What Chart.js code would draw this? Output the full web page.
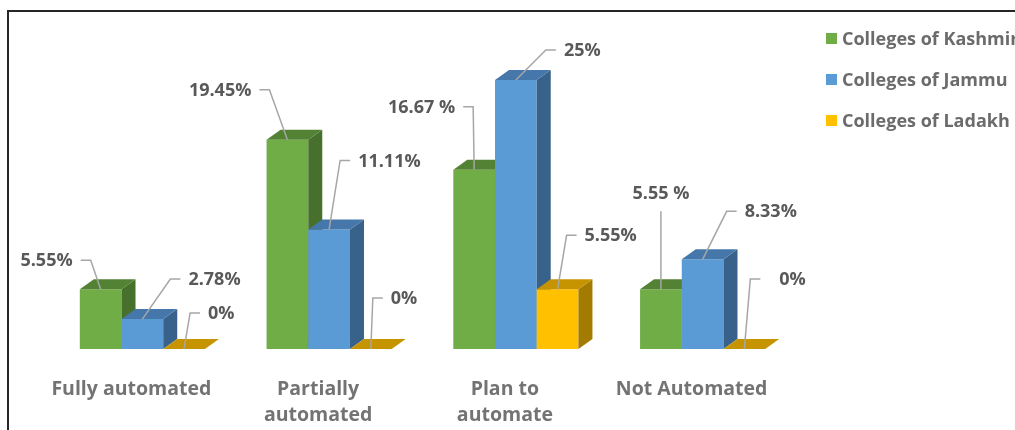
<!DOCTYPE html>
<html lang="en">
<head>
<meta charset="UTF-8">
<title>Automation status of colleges</title>
<script src="https://cdn.jsdelivr.net/npm/chart.js"></script>
<style>
  body{ margin:0; background:#fff; }
  #wrap{ width:1015px; height:430px; }
</style>
</head>
<body>
<div id="wrap"><canvas id="autoChart" width="1015" height="430"></canvas></div>
<script>
// data
const categories = [['Fully automated'], ['Partially', 'automated'], ['Plan to', 'automate'], ['Not Automated']];
const seriesNames = ['Colleges of Kashmir', 'Colleges of Jammu', 'Colleges of Ladakh'];
const kashmir = [5.55, 19.45, 16.67, 5.55];
const jammu = [2.78, 11.11, 25, 8.33];
const ladakh = [0, 0, 5.55, 0];
const kashmirLabels = ['5.55%', '19.45%', '16.67 %', '5.55 %'];
const jammuLabels = ['2.78%', '11.11%', '25%', '8.33%'];
const ladakhLabels = ['0%', '0%', '5.55%', '0%'];

// where each label's leader line bends (relative to the bar top) and which side the text sits
const kashmirLeaders = [[-10, -29, 'left'], [-18, -50, 'left'], [-1, -63, 'left'], [0, -78, 'top']];
const jammuLeaders = [[28, -40, 'right'], [11, -69, 'right'], [30, -30, 'right'], [24, -48, 'right']];
const ladakhLeaders = [[6, -36, 'right'], [2, -51, 'right'], [9, -54, 'right'], [6, -70, 'right', 19]];

// front, top, side
const greenFaces = ['#70ad47', '#548235', '#47702c'];
const blueFaces = ['#5b9bd5', '#4677ab', '#39628a'];
const yellowFaces = ['#ffc000', '#c59400', '#a37b00'];

const DX = 14, DY = 10;
const FONT = '"Open Sans", "Liberation Sans", sans-serif';

const bars3d = {
  id: 'bars3d',
  beforeDraw(chart) {
    const ctx = chart.ctx;
    ctx.save();
    ctx.strokeStyle = '#262626';
    ctx.lineWidth = 2;
    ctx.beginPath();
    ctx.moveTo(8, 430);
    ctx.lineTo(8, 11);
    ctx.lineTo(1015, 11);
    ctx.stroke();
    ctx.restore();
  },
  afterDatasetsDraw(chart) {
    const ctx = chart.ctx;
    const poly = (pts, color) => {
      ctx.fillStyle = color;
      ctx.beginPath();
      ctx.moveTo(pts[0][0], pts[0][1]);
      for (let k = 1; k < pts.length; k++) ctx.lineTo(pts[k][0], pts[k][1]);
      ctx.closePath();
      ctx.fill();
    };
    ctx.save();

    // bars, dataset by dataset so the next bar covers the side of the one before
    chart.data.datasets.forEach((ds, i) => {
      const meta = chart.getDatasetMeta(i);
      meta.data.forEach(bar => {
        const p = bar.getProps(['x', 'y', 'base', 'width'], true);
        const l = p.x - p.width / 2, r = p.x + p.width / 2;
        const f = ds.faces;
        if (p.base - p.y > 0) {
          poly([[l, p.y], [r, p.y], [r, p.base], [l, p.base]], f[0]);
          poly([[r, p.y], [r + DX, p.y - DY], [r + DX, p.base - DY], [r, p.base]], f[2]);
        }
        poly([[l, p.y], [l + DX, p.y - DY], [r + DX, p.y - DY], [r, p.y]], f[1]);
      });
    });

    // data labels with leader lines
    ctx.font = 'bold 18px ' + FONT;
    ctx.textBaseline = 'middle';
    chart.data.datasets.forEach((ds, i) => {
      const meta = chart.getDatasetMeta(i);
      meta.data.forEach((bar, j) => {
        const p = bar.getProps(['x', 'y'], true);
        const [ex, ey, side, gap] = ds.leaders[j];
        const bx = p.x + ex, by = p.y + ey;
        const g = gap || 8;
        ctx.strokeStyle = '#a6a6a6';
        ctx.lineWidth = 1.5;
        ctx.beginPath();
        ctx.moveTo(p.x, p.y);
        ctx.lineTo(bx, by);
        ctx.fillStyle = '#595959';
        if (side === 'left') {
          ctx.lineTo(bx - 10, by);
          ctx.stroke();
          ctx.textAlign = 'right';
          ctx.fillText(ds.texts[j], bx - 10 - g, by + 1);
        } else if (side === 'right') {
          ctx.lineTo(bx + 10, by);
          ctx.stroke();
          ctx.textAlign = 'left';
          ctx.fillText(ds.texts[j], bx + 10 + g, by + 1);
        } else {
          ctx.stroke();
          ctx.textAlign = 'center';
          ctx.fillText(ds.texts[j], bx, by - 17);
        }
      });
    });

    // category labels
    const xs = chart.scales.x;
    ctx.font = 'bold 19.5px ' + FONT;
    ctx.fillStyle = '#737373';
    ctx.textAlign = 'center';
    chart.data.labels.forEach((lines, i) => {
      const cx = xs.getPixelForValue(i) - 11;
      lines.forEach((t, k) => ctx.fillText(t, cx, 389 + k * 26));
    });

    // legend
    ctx.font = 'bold 18px ' + FONT;
    ctx.textAlign = 'left';
    chart.data.datasets.forEach((ds, i) => {
      const cy = 39 + i * 41;
      ctx.fillStyle = ds.faces[0];
      ctx.fillRect(826, cy - 6, 11, 11);
      ctx.fillStyle = '#6b6b6b';
      ctx.fillText(ds.label, 842, cy + 1);
    });
    ctx.restore();
  }
};

new Chart(document.getElementById('autoChart'), {
  type: 'bar',
  data: {
    labels: categories,
    datasets: [
      { label: seriesNames[0], data: kashmir, texts: kashmirLabels, leaders: kashmirLeaders, faces: greenFaces },
      { label: seriesNames[1], data: jammu, texts: jammuLabels, leaders: jammuLeaders, faces: blueFaces },
      { label: seriesNames[2], data: ladakh, texts: ladakhLabels, leaders: ladakhLeaders, faces: yellowFaces }
    ].map(d => Object.assign(d, {
      backgroundColor: 'rgba(0,0,0,0)',
      borderWidth: 0,
      categoryPercentage: 0.67,
      barPercentage: 1
    }))
  },
  options: {
    responsive: false,
    animation: false,
    devicePixelRatio: 1,
    layout: { padding: { left: 49, right: 219, top: 80, bottom: 81 } },
    scales: {
      x: { display: false },
      y: { display: false, min: 0, max: 25 }
    },
    plugins: {
      legend: { display: false },
      tooltip: { enabled: false }
    }
  },
  plugins: [bars3d]
});
</script>
</body>
</html>
